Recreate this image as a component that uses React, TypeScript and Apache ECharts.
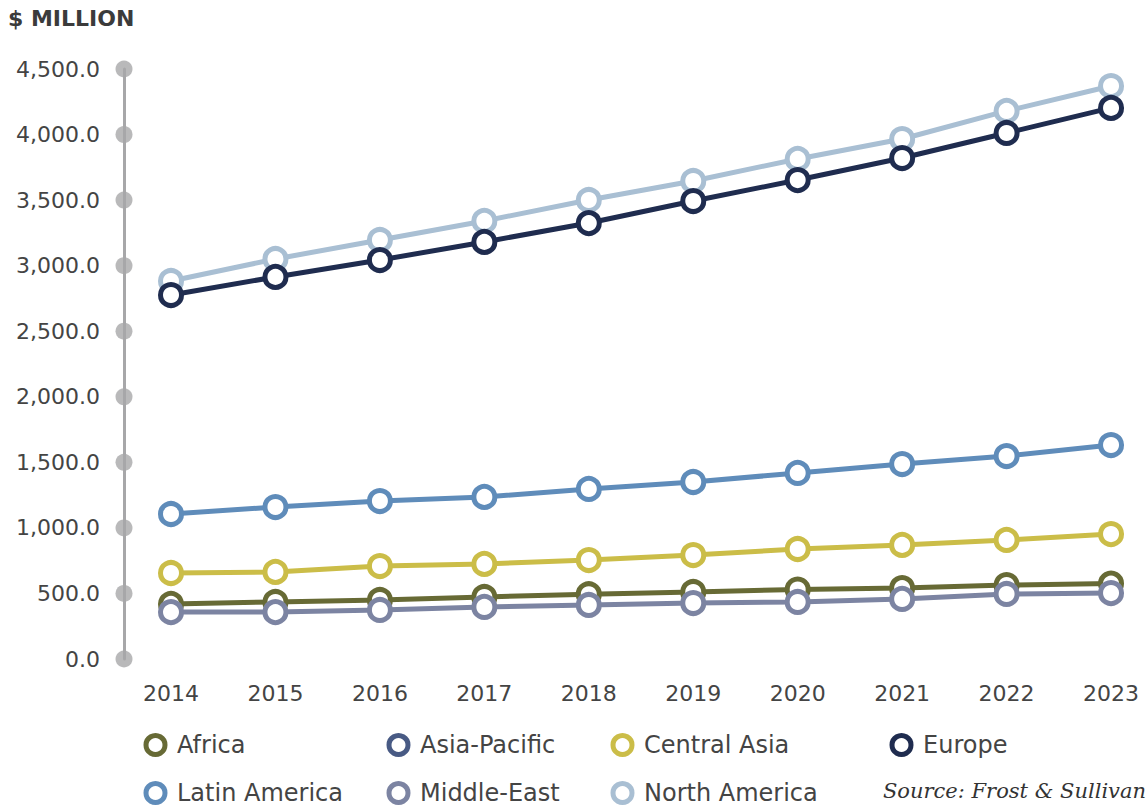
import React, { useEffect, useRef } from "react";
import * as echarts from "echarts";

const years = [2014, 2015, 2016, 2017, 2018, 2019, 2020, 2021, 2022, 2023];
const yTicks = [0, 500, 1000, 1500, 2000, 2500, 3000, 3500, 4000, 4500];

const africa = [420, 435, 450, 473, 494, 511, 530, 541, 564, 575];
const asiaPacific: number[] = [];
const centralAsia = [656, 664, 709, 725, 755, 793, 839, 870, 908, 953];
const europe = [2776, 2914, 3043, 3181, 3325, 3493, 3653, 3821, 4012, 4203];
const latinAmerica = [1106, 1159, 1205, 1236, 1297, 1350, 1419, 1487, 1548, 1632];
const middleEast = [358, 358, 374, 397, 412, 427, 435, 458, 496, 503];
const northAmerica = [2883, 3051, 3196, 3341, 3501, 3646, 3814, 3966, 4180, 4370];

const seriesNames = ["Africa", "Asia-Pacific", "Central Asia", "Europe", "Latin America", "Middle-East", "North America"];
const seriesValues = [africa, asiaPacific, centralAsia, europe, latinAmerica, middleEast, northAmerica];
const colors = ["#676a35", "#485a84", "#cbbd48", "#1f2c4f", "#5f8cba", "#7c84a2", "#a9bfd3"];

const SANS = "DejaVu Sans";

export default function App() {
  const ref = useRef<HTMLDivElement>(null);
  useEffect(() => {
    if (!ref.current) return;
    const chart = echarts.init(ref.current, undefined, { renderer: "svg" });
    const xMin = 2013.55;
    const xMax = 2023.354;

    const lineSeries = seriesNames.map((name, i) => ({
      name,
      type: "line",
      data: seriesValues[i].map((v, j) => [years[j], v]),
      symbol: "circle",
      symbolSize: 21,
      showSymbol: true,
      z: name === "Europe" ? 5 : 3,
      itemStyle: { color: "#ffffff", borderColor: colors[i], borderWidth: 5 },
      lineStyle: { color: colors[i], width: 5 },
      emphasis: { disabled: true },
    }));

    const legendPos = [
      [143.5, 733], [386.5, 733], [610.5, 733], [889.5, 733],
      [143.5, 781], [386.5, 781], [610.5, 781],
    ];
    const legends = seriesNames.map((name, i) => ({
      data: [{ name, icon: "circle", itemStyle: { color: "#ffffff", borderColor: colors[i], borderWidth: 5 } }],
      left: legendPos[i][0],
      top: legendPos[i][1],
      padding: 0,
      itemWidth: 19,
      itemHeight: 19,
      selectedMode: false,
      textStyle: { fontSize: 24, fontFamily: SANS, color: "#444444", lineHeight: 24, padding: [0, 0, 0, 7] },
    }));

    chart.setOption({
      animation: false,
      backgroundColor: "#ffffff",
      grid: { left: 124, right: 0, top: 69, bottom: 148, containLabel: false },
      xAxis: {
        type: "value",
        min: xMin,
        max: xMax,
        axisLine: { show: false },
        axisTick: { show: false },
        splitLine: { show: false },
        axisLabel: {
          customValues: years,
          formatter: (v: number) => String(Math.round(v)),
          fontSize: 22,
          fontFamily: SANS,
          color: "#444444",
          margin: 23,
        },
      },
      yAxis: {
        type: "value",
        min: 0,
        max: 4500,
        interval: 500,
        axisLine: { show: true, lineStyle: { color: "#a7a7a9", width: 3 } },
        axisTick: { show: false },
        splitLine: { show: false },
        axisLabel: {
          formatter: (v: number) => v.toLocaleString("en-US", { minimumFractionDigits: 1, maximumFractionDigits: 1 }),
          fontSize: 22,
          fontFamily: SANS,
          color: "#444444",
          margin: 24,
        },
      },
      legend: legends,
      graphic: [
        {
          type: "text",
          left: 8,
          top: 7,
          style: { text: "$ MILLION", fontSize: 22, fontWeight: "bold", fontFamily: SANS, fill: "#3b3b3b" },
        },
        {
          type: "text",
          right: 2,
          top: 780,
          style: { text: "Source: Frost & Sullivan", fontSize: 21, fontStyle: "italic", fontFamily: "DejaVu Serif", fill: "#333333" },
        },
      ],
      series: [
        {
          type: "scatter",
          data: yTicks.map((t) => [xMin, t]),
          symbol: "circle",
          symbolSize: 17,
          clip: false,
          z: 2,
          itemStyle: { color: "#a7a7a9" },
          silent: true,
        },
        ...lineSeries,
      ],
    });
    return () => chart.dispose();
  }, []);
  return <div ref={ref} style={{ position: "fixed", left: 0, top: 0, width: 1148, height: 807 }} />;
}
